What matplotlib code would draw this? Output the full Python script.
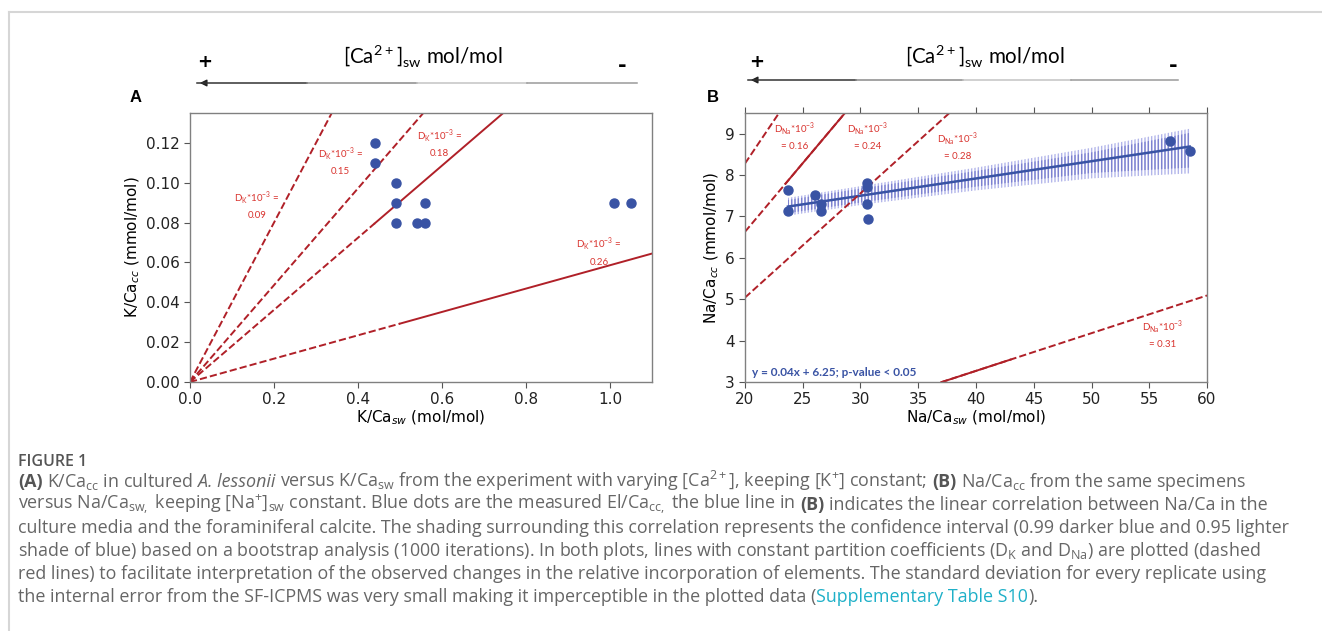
import numpy as np
import matplotlib
matplotlib.use('Agg')
import matplotlib.pyplot as plt
from matplotlib.lines import Line2D

# ---- panel A: K/Ca ----
k_sw = [0.44, 0.44, 0.49, 0.49, 0.49, 0.54, 0.56, 0.56, 1.01, 1.05]
k_cc = [0.12, 0.11, 0.10, 0.09, 0.08, 0.08, 0.09, 0.08, 0.09, 0.09]

dk_labels = ['0.09', '0.15', '0.18', '0.26']
dk_slopes = [0.40, 0.243, 0.181, 0.0586]
dk_solid_from = [None, None, 0.44, 0.50]

# ---- panel B: Na/Ca ----
na_sw = [23.72, 23.72, 26.06, 26.58, 26.58, 30.56, 30.56, 30.56, 30.65, 56.8, 58.5]
na_cc = [7.63, 7.14, 7.53, 7.31, 7.14, 7.82, 7.72, 7.31, 6.93, 8.83, 8.57]
fit_slope, fit_icpt = 0.0417, 6.25

# bootstrap band
band_x = [23.72, 30.6, 40, 50, 58.5]
band_outer_lo = [7.02, 7.30, 7.63, 7.92, 8.04]
band_outer_hi = [7.45, 7.76, 8.18, 8.66, 9.12]
band_inner_lo = [7.08, 7.36, 7.72, 8.05, 8.18]
band_inner_hi = [7.40, 7.70, 8.10, 8.55, 9.02]

dna_labels = ['0.16', '0.24', '0.28', '0.31']
dna_slopes = [0.414, 0.3315, 0.252, 0.0911]
dna_icpts = [0, 0, 0, -0.375]
dna_solid = [None, (23.5, 60), None, (37, 43)]

W, H = 1322, 631
RED = '#b02028'
RED_TXT = '#d9342f'
BLUE = '#3953a4'

plt.rcParams['hatch.linewidth'] = 1.0
fig = plt.figure(figsize=(W / 100, H / 100), dpi=100)
renderer = fig.canvas.get_renderer()

def fx(x):
    return x / W

def fy(y):
    return 1 - y / H

# frame around the figure
fig.add_artist(Line2D([fx(9), fx(9)], [fy(12), 0], transform=fig.transFigure, color='#d6d6d6', lw=1.5))
fig.add_artist(Line2D([fx(9), 1], [fy(12), fy(12)], transform=fig.transFigure, color='#d6d6d6', lw=1.5))

axA = fig.add_axes([fx(190), fy(382), 462 / W, 269 / H])
axB = fig.add_axes([fx(745), fy(382), 462 / W, 269 / H])

for ax in (axA, axB):
    for s in ax.spines.values():
        s.set_color('#808080')
        s.set_linewidth(1.0)
    ax.tick_params(labelsize=11, colors='#222222', length=4)
    ax.tick_params(axis='both', color='#555555')

# ---- A ----
for lab, m, sx in zip(dk_labels, dk_slopes, dk_solid_from):
    if sx is None:
        axA.plot([0, 1.1], [0, 1.1 * m], '--', color=RED, lw=1.4)
    else:
        axA.plot([0, sx], [0, sx * m], '--', color=RED, lw=1.4)
        axA.plot([sx, 1.1], [sx * m, 1.1 * m], '-', color=RED, lw=1.4)

label_pos_A = [(0.16, 0.089), (0.358, 0.111), (0.594, 0.12), (0.974, 0.0655)]
for lab, (lx, ly) in zip(dk_labels, label_pos_A):
    axA.text(lx, ly, 'D$_\\mathregular{K}$*10$^\\mathregular{-3}$ =\n' + lab, color=RED_TXT,
             fontsize=7, family='Lato', ha='center', va='center', linespacing=1.6)

axA.plot(k_sw, k_cc, 'o', color=BLUE, ms=6.5)
axA.set_xlim(0, 1.1)
axA.set_ylim(0, 0.135)
axA.set_xticks([0, 0.2, 0.4, 0.6, 0.8, 1.0])
axA.set_yticks([0, 0.02, 0.04, 0.06, 0.08, 0.10, 0.12])
axA.set_xticklabels(['0.0', '0.2', '0.4', '0.6', '0.8', '1.0'])
axA.set_yticklabels(['0.00', '0.02', '0.04', '0.06', '0.08', '0.10', '0.12'])
axA.set_xlabel('K/Ca$_{sw}$ (mol/mol)', fontsize=11, labelpad=1)
axA.set_ylabel('K/Ca$_{cc}$ (mmol/mol)', fontsize=11, labelpad=3)

# ---- B ----
axB.fill_between(band_x, band_outer_lo, band_outer_hi, facecolor='none',
                 edgecolor='#b3b6ea', hatch='|||||', linewidth=0)
axB.fill_between(band_x, band_inner_lo, band_inner_hi, facecolor='none',
                 edgecolor='#7d82d0', hatch='|||||', linewidth=0)

xs = np.array([min(na_sw), max(na_sw)])
axB.plot(xs, fit_slope * xs + fit_icpt, '-', color=BLUE, lw=1.8)

for m, c, solid in zip(dna_slopes, dna_icpts, dna_solid):
    xx = np.array([20, 60])
    axB.plot(xx, m * xx + c, '--', color=RED, lw=1.4)
    if solid is not None:
        xx = np.array(solid)
        axB.plot(xx, m * xx + c, '-', color=RED, lw=1.4)

label_pos_B = [(24.3, 8.95), (30.6, 8.95), (38.4, 8.7), (56.2, 4.16)]
for lab, (lx, ly) in zip(dna_labels, label_pos_B):
    axB.text(lx, ly, 'D$_\\mathregular{Na}$*10$^\\mathregular{-3}$\n= ' + lab, color=RED_TXT,
             fontsize=7, family='Lato', ha='center', va='center', linespacing=1.6)

axB.plot(na_sw, na_cc, 'o', color=BLUE, ms=6.5)
axB.text(20.6, 3.22, 'y = 0.04x + 6.25; p-value < 0.05', color=BLUE, fontsize=8.5,
         family='Lato', weight='bold', va='center')
axB.set_xlim(20, 60)
axB.set_ylim(3, 9.5)
axB.set_xticks([20, 25, 30, 35, 40, 45, 50, 55, 60])
axB.set_yticks([3, 4, 5, 6, 7, 8, 9])
axB.tick_params(top=True, labeltop=False)
axB.set_xlabel('Na/Ca$_{sw}$ (mol/mol)', fontsize=11, labelpad=1)
axB.set_ylabel('Na/Ca$_{cc}$ (mmol/mol)', fontsize=11, labelpad=3)

# ---- headers with [Ca2+] arrows ----
for x_mid, x_plus, x_minus, x0, x1, y_arr, letter, x_let in [
        (423, 205, 622, 197, 637, 83, 'A', 136),
        (985, 757, 1173, 748, 1178, 80, 'B', 713)]:
    fig.text(fx(x_mid), fy(57), '[Ca$^\\mathregular{2+}$]$_\\mathregular{sw}$ mol/mol',
             family='Lato', fontsize=14.8, ha='center', va='center')
    fig.text(fx(x_plus), fy(62), '+', weight='bold', fontsize=13, ha='center', va='center')
    fig.text(fx(x_minus), fy(66), '-', weight='bold', fontsize=15, ha='center', va='center')
    seg = (x1 - x0) / 4
    for i, col in enumerate(['#333333', '#8a8a8a', '#c4c4c4', '#9a9a9a']):
        fig.add_artist(Line2D([fx(x0 + i * seg), fx(x0 + (i + 1) * seg)], [fy(y_arr), fy(y_arr)],
                              transform=fig.transFigure, color=col, lw=1.1))
    axA.annotate('', xy=(fx(x0), fy(y_arr)), xytext=(fx(x0 + 12), fy(y_arr)),
                 xycoords='figure fraction', textcoords='figure fraction', annotation_clip=False,
                 arrowprops=dict(arrowstyle='-|>', color='#222222', lw=1.0, mutation_scale=10))
    fig.text(fx(x_let), fy(97), letter, family='Liberation Sans', weight='bold', fontsize=12,
             ha='center', va='center')

# ---- caption ----
CAP = '#666666'
CAP_SIZE = 12.9
CAP_X = 18
sp_probe = [fig.text(0, 0, s, fontsize=CAP_SIZE, family='Open Sans') for s in ('a a', 'aa')]
space_w = sp_probe[0].get_window_extent(renderer).width - sp_probe[1].get_window_extent(renderer).width
for t in sp_probe:
    t.remove()

def caption_line(y, parts, x=CAP_X):
    for s, kw in parts:
        lead = len(s) - len(s.lstrip(' '))
        trail = len(s) - len(s.rstrip(' '))
        x += lead * space_w
        props = dict(fontsize=CAP_SIZE, family='Open Sans', color=CAP)
        props.update(kw)
        t = fig.text(fx(x), fy(y), s.strip(' '), va='baseline', **props)
        x += t.get_window_extent(renderer).width + trail * space_w

B = {'weight': 'bold', 'color': '#555555'}
I = {'style': 'italic'}
N = {}
sub = lambda s: '$_\\mathregular{' + s + '}$'
sup = lambda s: '$^\\mathregular{' + s + '}$'

fig.text(fx(CAP_X), fy(466), 'FIGURE 1', fontsize=11.5, family='Open Sans', weight='semibold',
         color='#555555', va='baseline')
caption_line(487, [('(A)', B), (' K/Ca' + sub('cc') + ' in cultured ', N), ('A. lessonii', I),
                   (' versus K/Ca' + sub('sw') + ' from the experiment with varying [Ca' + sup('2+')
                    + '], keeping [K' + sup('+') + '] constant; ', N), ('(B)', B),
                   (' Na/Ca' + sub('cc') + ' from the same specimens', N)])
caption_line(510, [('versus Na/Ca' + sub('sw,') + ' keeping [Na' + sup('+') + ']' + sub('sw')
                    + ' constant. Blue dots are the measured El/Ca' + sub('cc,')
                    + ' the blue line in ', N), ('(B)', B),
                   (' indicates the linear correlation between Na/Ca in the', N)])
caption_line(533, [('culture media and the foraminiferal calcite. The shading surrounding this '
                    'correlation represents the confidence interval (0.99 darker blue and 0.95 lighter', N)])
caption_line(556, [('shade of blue) based on a bootstrap analysis (1000 iterations). In both plots, '
                    'lines with constant partition coefficients (D' + sub('K') + ' and D' + sub('Na')
                    + ') are plotted (dashed', N)])
caption_line(579, [('red lines) to facilitate interpretation of the observed changes in the relative '
                    'incorporation of elements. The standard deviation for every replicate using', N)])
caption_line(602, [('the internal error from the SF-ICPMS was very small making it imperceptible in '
                    'the plotted data (', N), ('Supplementary Table S10', {'color': '#1fb0c8'}),
                   (').', N)])

fig.savefig('out.png', dpi=100)
